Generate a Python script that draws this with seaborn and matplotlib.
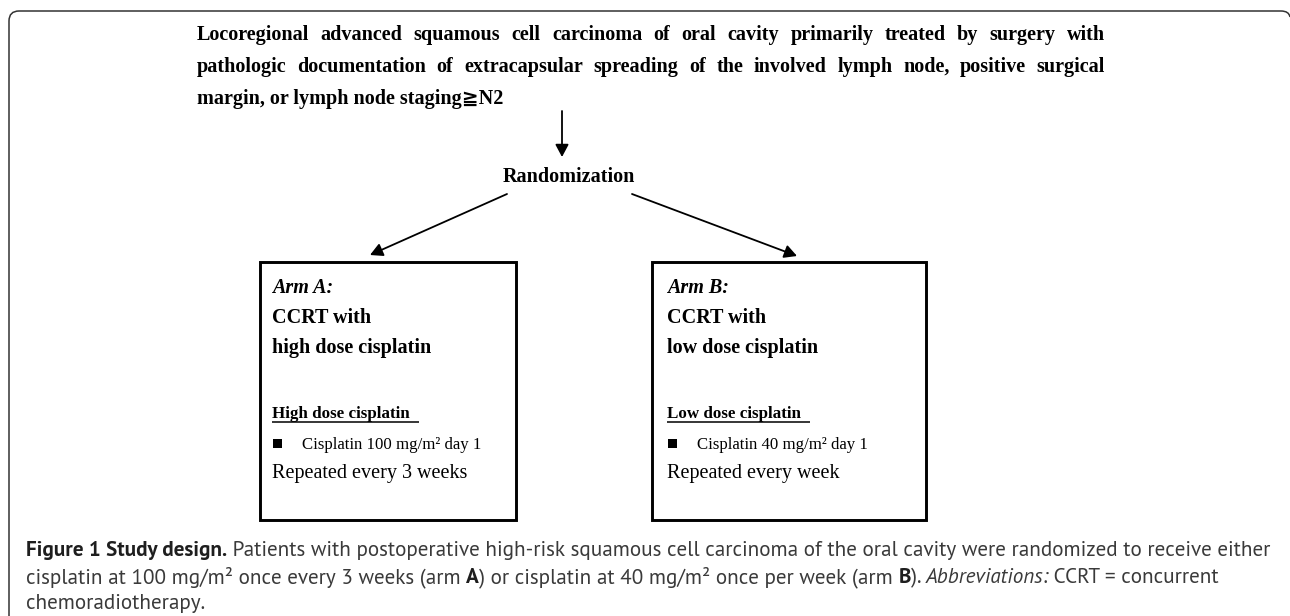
import matplotlib
matplotlib.use("Agg")
import matplotlib.pyplot as plt
import seaborn as sns
from matplotlib.patches import Rectangle, PathPatch
from matplotlib.path import Path

sns.set_theme(style="white")
plt.rcParams["font.family"] = ["Liberation Serif", "DejaVu Serif", "DejaVu Sans"]

# ---------------- content ----------------
title_lines = [
    "Locoregional advanced squamous cell carcinoma of oral cavity primarily treated by surgery with",
    "pathologic documentation of extracapsular spreading of the involved lymph node, positive surgical",
    "margin, or lymph node staging\u2267N2",
]
randomization_label = "Randomization"
arm_headers = ["Arm A:", "Arm B:"]
arm_titles = [["CCRT with", "high dose cisplatin"], ["CCRT with", "low dose cisplatin"]]
regimen_labels = ["High dose cisplatin", "Low dose cisplatin"]
doses = ["Cisplatin 100 mg/m\u00b2 day 1", "Cisplatin 40 mg/m\u00b2 day 1"]
schedules = ["Repeated every 3 weeks", "Repeated every week"]
caption_lines = [
    [("Figure 1 Study design.", "b"),
     (" Patients with postoperative high-risk squamous cell carcinoma of the oral cavity were randomized to receive either", "r")],
    [("cisplatin at 100 mg/m\u00b2 once every 3 weeks (arm ", "r"), ("A", "b"),
     (") or cisplatin at 40 mg/m\u00b2 once per week (arm ", "r"), ("B", "b"),
     ("). ", "r"), ("Abbreviations:", "i"), (" CCRT = concurrent", "r")],
    [("chemoradiotherapy.", "r")],
]

# ---------------- canvas ----------------
W, H = 1290, 616
fig = plt.figure(figsize=(W / 100, H / 100), dpi=100)
ax = fig.add_axes([0, 0, 1, 1])
ax.set_xlim(0, W)
ax.set_ylim(H, 0)
ax.axis("off")
renderer = fig.canvas.get_renderer()


def width(s, **kw):
    t = ax.text(0, 0, s, **kw)
    w = t.get_window_extent(renderer).width
    t.remove()
    return w


def adv(s, **kw):
    return width("|" + s + "|", **kw) - width("||", **kw)


def fit(s, target, **kw):
    """font size that makes string s about `target` pixels wide"""
    kw = dict(kw)
    kw["fontsize"] = 12
    return 12 * target / adv(s, **kw)


# outer frame
verts = [(9, H), (9, 21), (9, 11), (19, 11), (1281, 11), (1289, 11), (1290, 17)]
codes = [Path.MOVETO, Path.LINETO, Path.CURVE3, Path.CURVE3, Path.LINETO, Path.CURVE3, Path.CURVE3]
ax.add_patch(PathPatch(Path(verts, codes), fill=False, lw=1.1, edgecolor="#333333"))

# title
tsize = fit(randomization_label, 131, fontweight="bold")
TKW = dict(fontsize=tsize, fontweight="bold", color="black")
tx0, tx1 = 197, 1105
title_base = [40, 72, 104]
for i, line in enumerate(title_lines):
    if i < 2:
        words = line.split()
        ws = [adv(w, **TKW) for w in words]
        gap = (tx1 - tx0 - sum(ws)) / (len(words) - 1)
        x = tx0
        for w, wd in zip(words, ws):
            ax.text(x, title_base[i], w, ha="left", va="baseline", **TKW)
            x += wd + gap
    else:
        ax.text(tx0, title_base[i], line, ha="left", va="baseline", **TKW)

# arrows
AP = dict(arrowstyle="-|>,head_length=0.75,head_width=0.4", mutation_scale=10,
          lw=1.3, color="black", shrinkA=0, shrinkB=0)
ax.annotate("", xy=(562, 157), xytext=(562, 111), arrowprops=AP)
ax.annotate("", xy=(370, 255), xytext=(507, 194), arrowprops=AP)
ax.annotate("", xy=(797, 256), xytext=(632, 194), arrowprops=AP)

ax.text(569, 182, randomization_label, ha="center", va="baseline", **TKW)

# boxes
box_left = [260, 652]
box_right = [516, 926]
box_top, box_bottom = 262, 520
text_x = [272, 667]
bsize = fit(arm_titles[0][1], 158, fontweight="bold")
rsize = fit(regimen_labels[0], 137, fontweight="bold")
dsize = fit(doses[0], 178)
ssize = fit(schedules[0], 195)
for k in range(2):
    ax.add_patch(Rectangle((box_left[k], box_top), box_right[k] - box_left[k],
                           box_bottom - box_top, fill=False, lw=2.1, edgecolor="black"))
    x0 = text_x[k]
    ax.text(x0, 293, arm_headers[k], fontsize=bsize, fontweight="bold", fontstyle="italic",
            ha="left", va="baseline", color="black")
    ax.text(x0, 323, arm_titles[k][0], fontsize=bsize, fontweight="bold",
            ha="left", va="baseline", color="black")
    ax.text(x0, 353, arm_titles[k][1], fontsize=bsize, fontweight="bold",
            ha="left", va="baseline", color="black")
    rkw = dict(fontsize=rsize, fontweight="bold", color="black")
    ax.text(x0, 418, regimen_labels[k], ha="left", va="baseline", **rkw)
    uw = adv(regimen_labels[k], **rkw)
    ax.plot([x0, x0 + uw + 9], [422, 422], lw=1.1, color="black", solid_capstyle="butt")
    ax.add_patch(Rectangle((x0 + 1, 439), 9, 9, color="black", lw=0))
    ax.text(x0 + 30, 449, doses[k], fontsize=dsize, ha="left", va="baseline", color="black")
    ax.text(x0, 478, schedules[k], fontsize=ssize, ha="left", va="baseline", color="black")

# caption
CFAM = ["PT Sans", "DejaVu Sans"]
base = {
    "b": dict(fontweight="bold", color="#1e1e1e", family=CFAM),
    "r": dict(color="#3a3a3a", family=CFAM),
    "i": dict(fontstyle="italic", color="#3a3a3a", family=CFAM),
}
line1_w = sum(adv(s, fontsize=12, **base[st]) for s, st in caption_lines[0])
csize = 12 * (1268 - 26) / line1_w
CAP = {k: dict(v, fontsize=csize) for k, v in base.items()}
cap_base = [556, 583, 609]
for i, segs in enumerate(caption_lines):
    x = 26
    for s, st in segs:
        ax.text(x, cap_base[i], s, ha="left", va="baseline", **CAP[st])
        x += adv(s, **CAP[st])

fig.savefig("out.png", dpi=100, facecolor="white")
